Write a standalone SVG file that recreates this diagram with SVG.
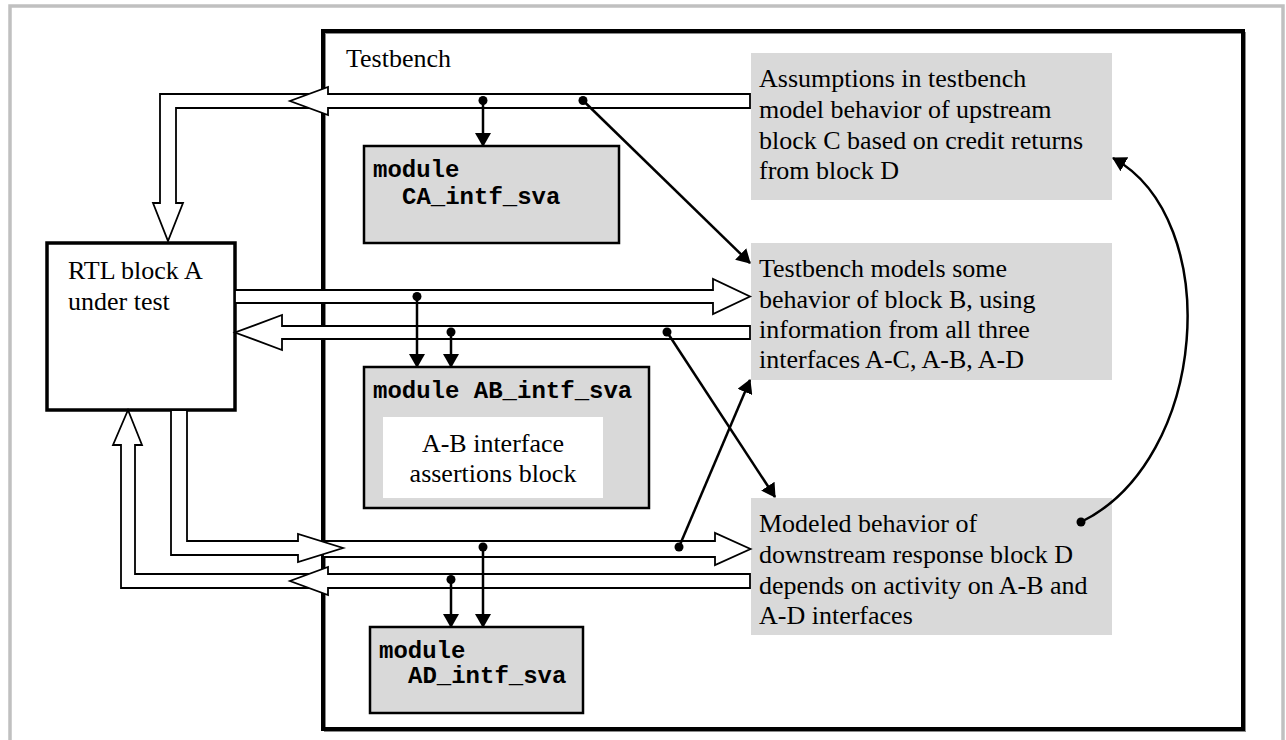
<svg xmlns="http://www.w3.org/2000/svg" width="1286" height="740" viewBox="0 0 1286 740">
<defs>
<style>
.serif{font-family:"Liberation Serif","Times New Roman",serif;font-size:26px;fill:#000}
.mono{font-family:"Liberation Mono","Courier New",monospace;font-size:24px;font-weight:bold;fill:#000}
.mod{fill:#d9d9d9;stroke:#000;stroke-width:2.5}
.note{fill:#d9d9d9;stroke:none}
.pipe{fill:#fff;stroke:#000;stroke-width:1.8;stroke-linejoin:miter}
.thin{fill:none;stroke:#000;stroke-width:2.5;marker-end:url(#ah)}
.dot{fill:#000}
</style>
<marker id="ah" viewBox="0 0 14 16" refX="13" refY="8" markerWidth="14" markerHeight="16" markerUnits="userSpaceOnUse" orient="auto">
<path d="M0,0 L14,8 L0,16 z" fill="#000"/>
</marker>
</defs>
<rect x="0" y="0" width="1286" height="740" fill="#fff"/>
<rect x="10" y="6" width="1273" height="760" fill="none" stroke="#c0c0c0" stroke-width="3.5"/>

<g id="testbench">
<rect x="325" y="33" width="920" height="698" fill="none" stroke="#8a8a8a" stroke-width="2"/>
<rect x="323" y="31" width="920" height="698" fill="none" stroke="#000" stroke-width="4"/>
<text class="serif" x="346" y="67">Testbench</text>
</g>

<g id="rtl">
<rect x="47" y="243" width="188" height="167" fill="#fff" stroke="#000" stroke-width="3.5"/>
<text class="serif" x="68" y="279">RTL block A</text>
<text class="serif" x="68" y="310">under test</text>
</g>

<g id="ca_module">
<rect class="mod" x="364" y="146" width="255" height="97"/>
<text class="mono" x="373" y="177">module</text>
<text class="mono" x="402" y="204">CA_intf_sva</text>
</g>

<g id="ab_module">
<rect class="mod" x="364" y="367" width="285" height="141"/>
<text class="mono" x="373" y="398">module AB_intf_sva</text>
<rect x="383" y="417" width="220" height="81" fill="#fff"/>
<text class="serif" x="493" y="452" text-anchor="middle">A-B interface</text>
<text class="serif" x="493" y="482" text-anchor="middle">assertions block</text>
</g>

<g id="ad_module">
<rect class="mod" x="370" y="627" width="213" height="86"/>
<text class="mono" x="379" y="658">module</text>
<text class="mono" x="408" y="683">AD_intf_sva</text>
</g>

<g id="note_c">
<rect class="note" x="751" y="53" width="361" height="147"/>
<text class="serif" x="759" y="87">Assumptions in testbench</text>
<text class="serif" x="759" y="117.5">model behavior of upstream</text>
<text class="serif" x="759" y="148.5">block C based on credit returns</text>
<text class="serif" x="759" y="178.5">from block D</text>
</g>

<g id="note_b">
<rect class="note" x="751" y="243" width="361" height="137"/>
<text class="serif" x="759" y="277">Testbench models some</text>
<text class="serif" x="759" y="307.5">behavior of block B, using</text>
<text class="serif" x="759" y="338">information from all three</text>
<text class="serif" x="759" y="367.5">interfaces A-C, A-B, A-D</text>
</g>

<g id="note_d">
<rect class="note" x="751" y="498" width="361" height="137"/>
<text class="serif" x="759" y="532">Modeled behavior of</text>
<text class="serif" x="759" y="563">downstream response block D</text>
<text class="serif" x="759" y="593.5">depends on activity on A-B and</text>
<text class="serif" x="759" y="623.5">A-D interfaces</text>
</g>

<g id="connectors">
<polygon class="pipe" points="315,94 160,94 160,203 153,203 168,241 183,203 176,203 176,108 315,108"/>
<polygon class="pipe" points="750,94 328,94 328,87 290,101 328,115 328,108 750,108"/>
<polygon class="pipe" points="235,290 713,290 713,279 750,296.5 713,314 713,303 235,303"/>
<polygon class="pipe" points="750,326 282,326 282,315 235,332.5 282,350 282,339 750,339"/>
<polygon class="pipe" points="323,541 715,541 715,533 750.5,549 715,565 715,557 323,557"/>
<polygon class="pipe" points="171,410 171,555 298,555 298,562 343,548 298,534 298,541 187,541 187,410"/>
<polygon class="pipe" points="315,574 135,574 135,445 142,445 128,410 113,445 121,445 121,588 315,588"/>
<polygon class="pipe" points="750,574 328,574 328,567 290,581 328,595 328,588 750,588"/>

<circle class="dot" cx="483" cy="100.5" r="4.5"/>
<path class="thin" d="M483,100.5 V146"/>
<circle class="dot" cx="583" cy="100.5" r="4.5"/>
<path class="thin" d="M583,100.5 L750,263"/>
<circle class="dot" cx="417" cy="296.5" r="4.5"/>
<path class="thin" d="M417,296.5 V367"/>
<circle class="dot" cx="451" cy="332" r="4.5"/>
<path class="thin" d="M451,332 V367"/>
<circle class="dot" cx="667" cy="332" r="4.5"/>
<path class="thin" d="M667,332 L775,497"/>
<circle class="dot" cx="679" cy="547" r="4.5"/>
<path class="thin" d="M679,547 L750,380"/>
<circle class="dot" cx="483" cy="547" r="4.5"/>
<path class="thin" d="M483,547 V627"/>
<circle class="dot" cx="451" cy="579.5" r="4.5"/>
<path class="thin" d="M451,579.5 V627"/>
<circle class="dot" cx="1081" cy="522" r="4.5"/>
<path class="thin" d="M1081,522 C1208,460 1225,220 1113,158"/>
</g>
</svg>
